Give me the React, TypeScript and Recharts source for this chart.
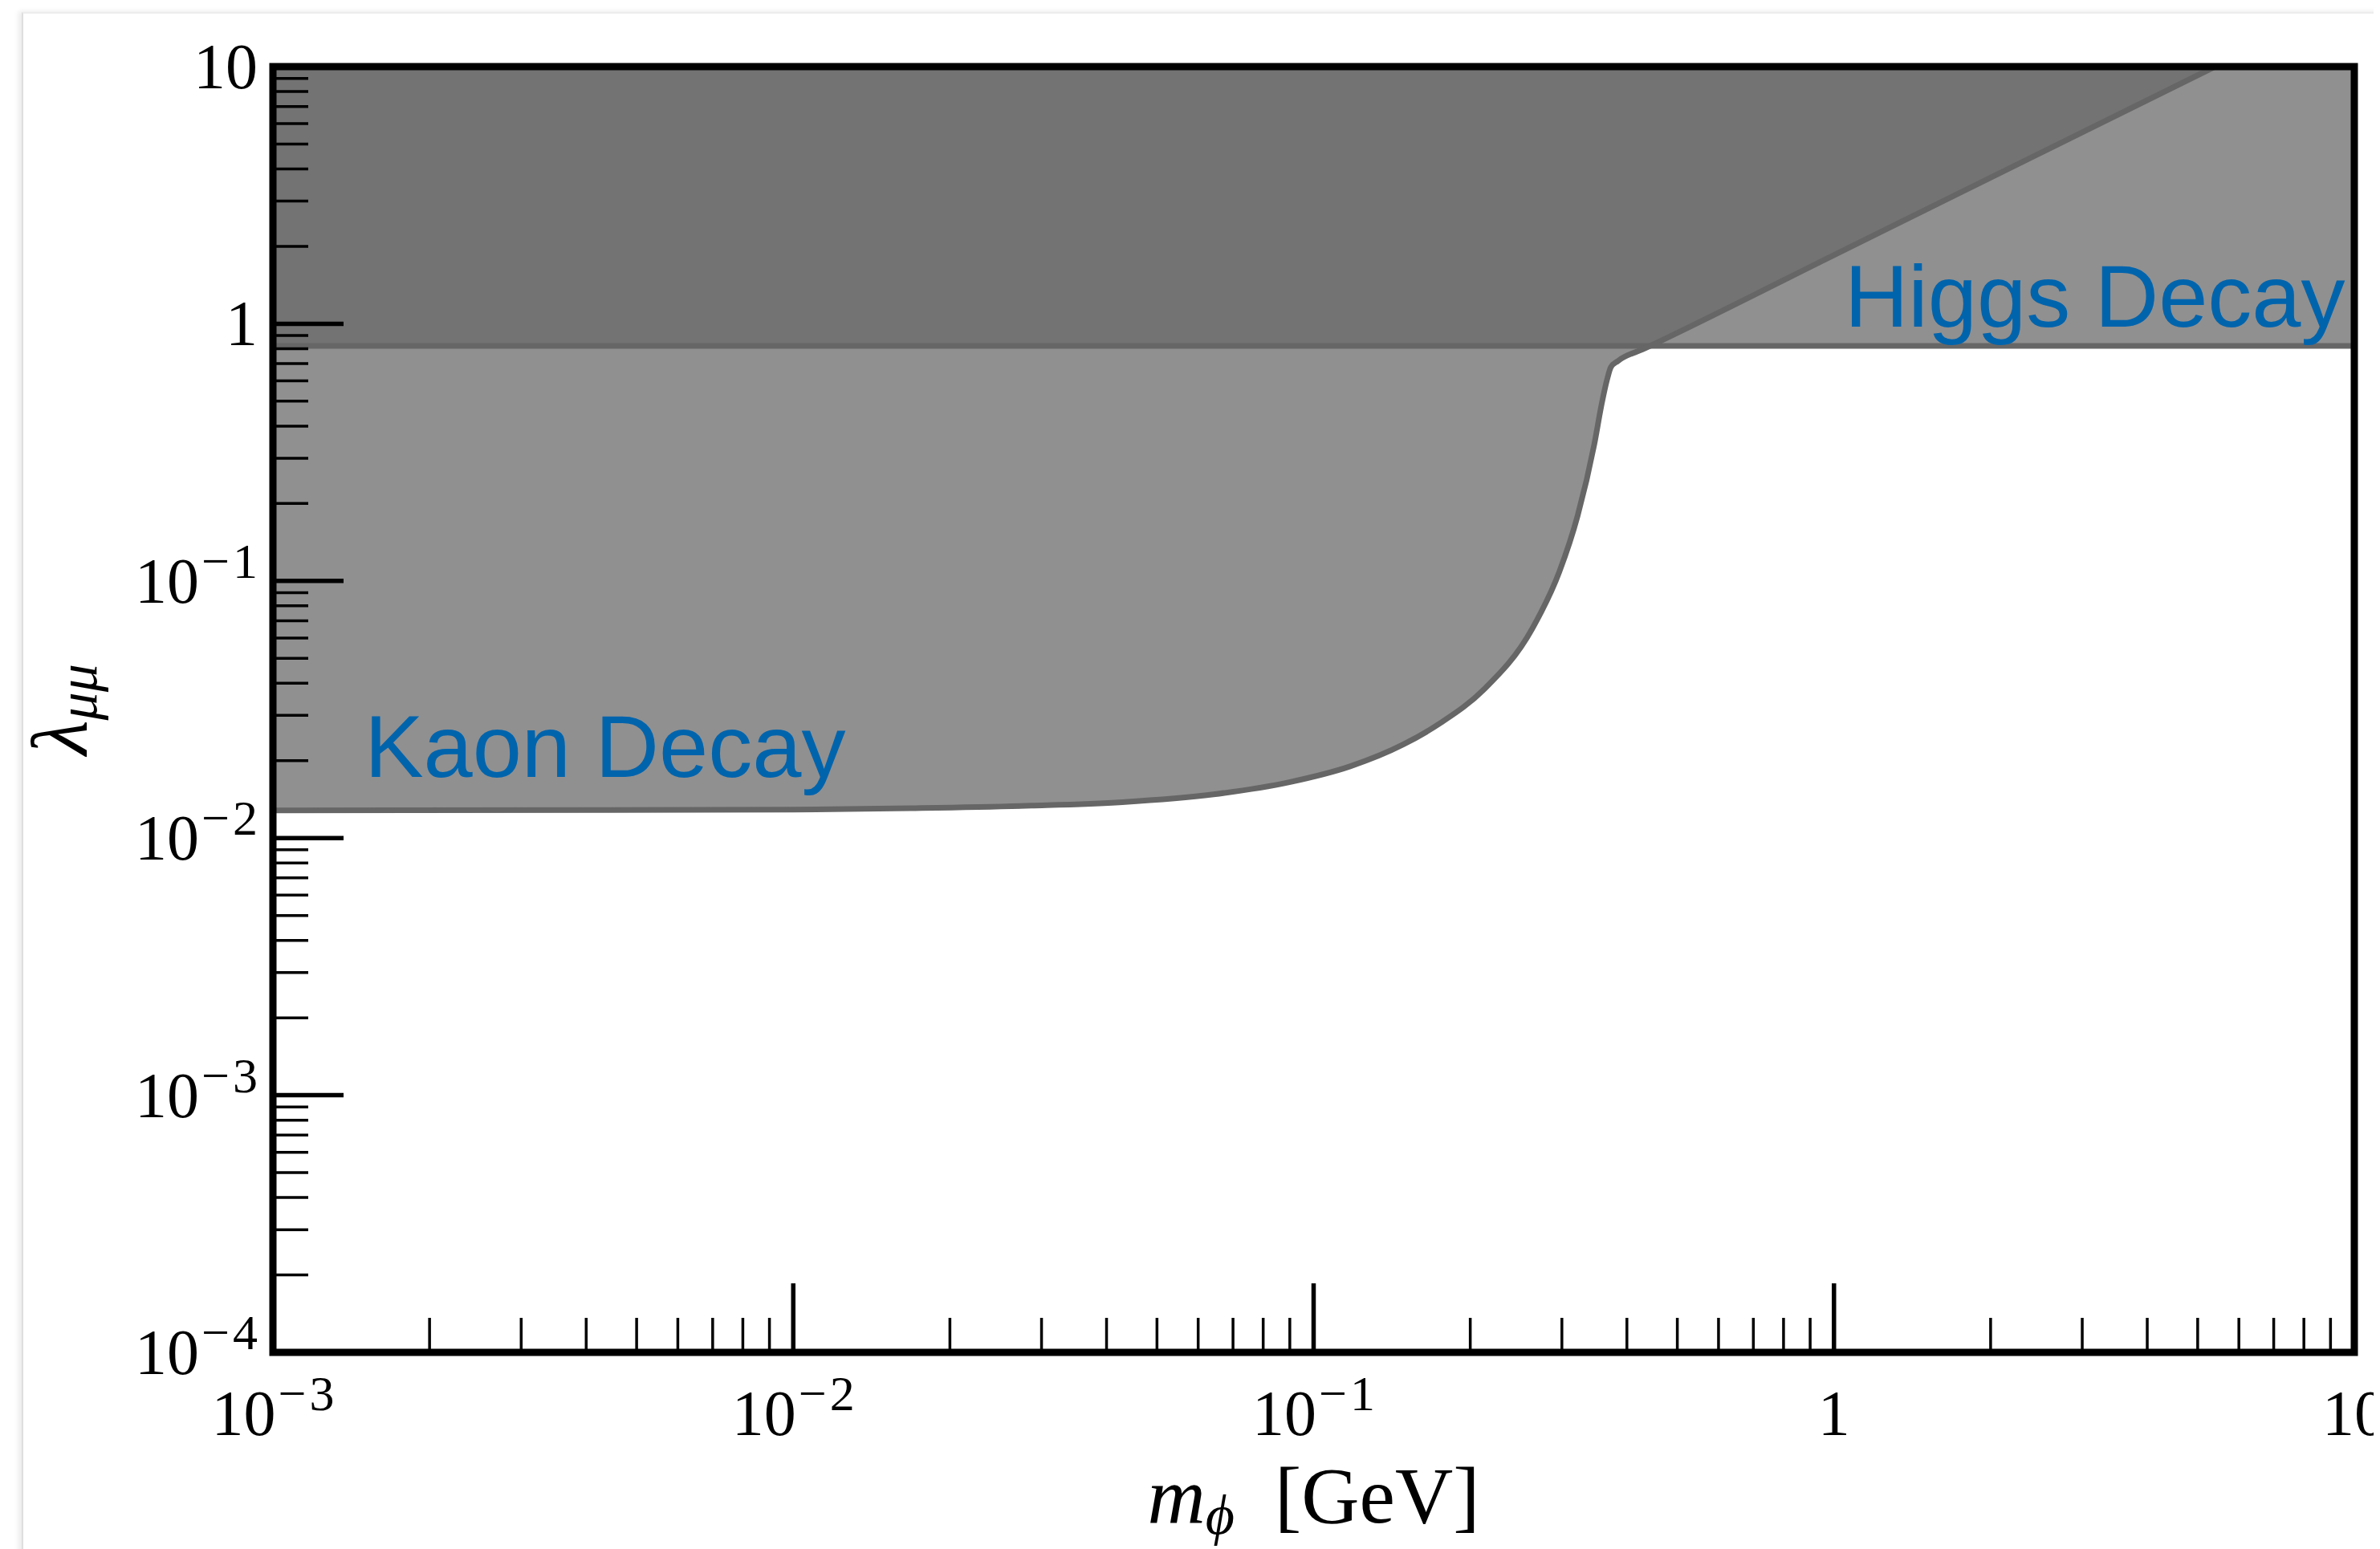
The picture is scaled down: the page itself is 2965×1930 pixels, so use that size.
import { ComposedChart, XAxis, YAxis, Area, Line, ReferenceArea, ReferenceDot, Label } from 'recharts'

// kaon decay bound: lambda_mumu vs m_phi [GeV]
const kaonMass = [
  0.001, 0.01, 0.0168, 0.0287, 0.0429, 0.0642, 0.0898, 0.1175, 0.1486, 0.1757, 0.2121,
  0.2629, 0.2967, 0.3216, 0.3462, 0.358, 0.3665, 0.3726, 0.3842, 0.432, 1.0, 5.4,
]
const kaonLambda = [
  0.0128, 0.0129, 0.01307, 0.01337, 0.0138, 0.01479, 0.01649, 0.019, 0.0231, 0.0281, 0.0377,
  0.065, 0.1086, 0.179, 0.339, 0.491, 0.608, 0.678, 0.716, 0.8, 1.85, 10,
]

// higgs decay bound (flat)
const higgsMass = [0.001, 10]
const higgsLambda = [0.82, 0.82]

const LAMBDA_MAX = 10

const xMajor = [0.001, 0.01, 0.1, 1, 10]
const yMajor = [0.0001, 0.001, 0.01, 0.1, 1, 10]
const minorSteps = [2, 3, 4, 5, 6, 7, 8, 9]

const regionLabels = [
  { text: 'Kaon Decay', m: 0.0015, lambda: 0.0173, anchor: 'start' },
  { text: 'Higgs Decay', m: 9.6, lambda: 0.975, anchor: 'end' },
]

const withMinors = (majors: number[]) =>
  majors.flatMap((d, i) =>
    i < majors.length - 1 ? [d, ...minorSteps.map(s => +(s * d).toPrecision(3))] : [d])

const xTicks = withMinors(xMajor)
const yTicks = withMinors(yMajor)

const kaonData = kaonMass.map((m, i) => ({ m, lambda: kaonLambda[i], band: [kaonLambda[i], LAMBDA_MAX] }))
const higgsData = higgsMass.map((m, i) => ({ m, lambda: higgsLambda[i], band: [higgsLambda[i], LAMBDA_MAX] }))

const SERIF = '"Liberation Serif", "DejaVu Serif", serif'
const SANS = '"Liberation Sans", Arial, sans-serif'
const BLUE = '#0064ad'
const EDGE = '#666666'
const BAND = '#696969'

const W = 2957
const H = 1922

const exp10 = (v: number) => Math.round(Math.log10(v))
const isMajor = (v: number) => Math.abs(Math.log10(v) - exp10(v)) < 1e-6

function powLabel(v: number) {
  const e = exp10(v)
  if (e === 0) return '1'
  if (e === 1) return '10'
  return [
    <tspan key="b">10</tspan>,
    <tspan key="m" dx={3} dy={-31} fontSize={62} letterSpacing={4}>{'\u2212'}</tspan>,
    <tspan key="s" fontSize={62}>{String(-e)}</tspan>,
  ]
}

function YTick(props: any) {
  const { x, y, payload } = props
  const major = isMajor(payload.value)
  return (
    <g>
      <line x1={x} x2={x + (major ? 88 : 44)} y1={y} y2={y} stroke="#000" strokeWidth={major ? 5.5 : 3.5} />
      {major && (
        <text x={x - 19} y={y + 27} textAnchor="end" fontFamily={SERIF} fontSize={80} fill="#000">
          {powLabel(payload.value)}
        </text>
      )}
    </g>
  )
}

function XTick(props: any) {
  const { x, y, payload } = props
  const major = isMajor(payload.value)
  return (
    <g>
      <line x1={x} x2={x} y1={y} y2={y - (major ? 86 : 43)} stroke="#000" strokeWidth={major ? 5.5 : 3.5} />
      {major && (
        <text x={x} y={y + 103} textAnchor="middle" fontFamily={SERIF} fontSize={80} fill="#000">
          {powLabel(payload.value)}
        </text>
      )}
    </g>
  )
}

function XTitle(props: any) {
  const { x, y, width } = props.viewBox
  return (
    <text x={x + width / 2} y={y + 212} textAnchor="middle" fontFamily={SERIF} fontSize={100} fill="#000">
      <tspan fontStyle="italic">m</tspan>
      <tspan fontStyle="italic" fontSize={70} dy={14}>{'\u03d5'}</tspan>
      <tspan dy={-14}>{'\u2002[GeV]'}</tspan>
    </text>
  )
}

function YTitle(props: any) {
  const { y, height } = props.viewBox
  const bx = 100
  const cy = y + height / 2
  return (
    <text
      transform={`rotate(-90 ${bx} ${cy})`}
      x={bx}
      y={cy}
      textAnchor="middle"
      fontFamily={SERIF}
      fontSize={100}
      fill="#000"
    >
      <tspan fontStyle="italic">{'\u03bb'}</tspan>
      <tspan fontStyle="italic" fontSize={70} dy={12}>{'\u03bc\u03bc'}</tspan>
    </text>
  )
}

export default function App() {
  return (
    <div style={{ position: 'relative', width: W, height: H, overflow: 'hidden', background: '#fff' }}>
      <div
        style={{
          position: 'absolute', left: 19, top: 7, width: 4000, height: 4000,
          borderLeft: '2px solid #dedede', borderTop: '2px solid #ededed',
          boxShadow: '-4px -1px 6px rgba(0,0,0,0.08)', background: '#fff',
        }}
      />
      <div style={{ position: 'relative' }}>
        <ComposedChart width={W} height={H} margin={{ top: 75, right: 32, left: 0, bottom: 0 }}>
          <XAxis
            dataKey="m"
            type="number"
            scale="log"
            domain={[0.001, 10]}
            allowDataOverflow
            ticks={xTicks}
            interval={0}
            tick={<XTick />}
            tickLine={false}
            tickSize={0}
            tickMargin={0}
            axisLine={false}
            height={245}
            zIndex={0}
          >
            <Label content={<XTitle />} />
          </XAxis>
          <YAxis
            type="number"
            scale="log"
            domain={[0.0001, 10]}
            allowDataOverflow
            ticks={yTicks}
            interval={0}
            tick={<YTick />}
            tickLine={false}
            tickSize={0}
            tickMargin={0}
            axisLine={false}
            width={332}
            zIndex={0}
          >
            <Label content={<YTitle />} />
          </YAxis>

          <Area
            data={kaonData}
            dataKey="band"
            type="monotone"
            fill={BAND}
            fillOpacity={0.74}
            stroke="none"
            isAnimationActive={false}
            activeDot={false}
          />
          <Area
            data={higgsData}
            dataKey="band"
            type="linear"
            fill={BAND}
            fillOpacity={0.74}
            stroke="none"
            isAnimationActive={false}
            activeDot={false}
          />
          <Line
            data={higgsData}
            dataKey="lambda"
            type="linear"
            stroke={EDGE}
            strokeWidth={7}
            dot={false}
            activeDot={false}
            isAnimationActive={false}
          />
          <Line
            data={kaonData}
            dataKey="lambda"
            type="monotone"
            stroke={EDGE}
            strokeWidth={7}
            dot={false}
            activeDot={false}
            isAnimationActive={false}
          />

          {regionLabels.map(l => (
            <ReferenceDot
              key={l.text}
              x={l.m}
              y={l.lambda}
              r={0}
              ifOverflow="visible"
              zIndex={2000}
              shape={(p: any) => (
                <text x={p.cx} y={p.cy} textAnchor={l.anchor} fontFamily={SANS} fontSize={110} fill={BLUE}>
                  {l.text}
                </text>
              )}
            />
          ))}

          <ReferenceArea
            x1={0.001}
            x2={10}
            y1={0.0001}
            y2={10}
            fill="none"
            fillOpacity={0}
            stroke="#000"
            strokeWidth={9}
            ifOverflow="visible"
            zIndex={1500}
          />
        </ComposedChart>
      </div>
    </div>
  )
}
